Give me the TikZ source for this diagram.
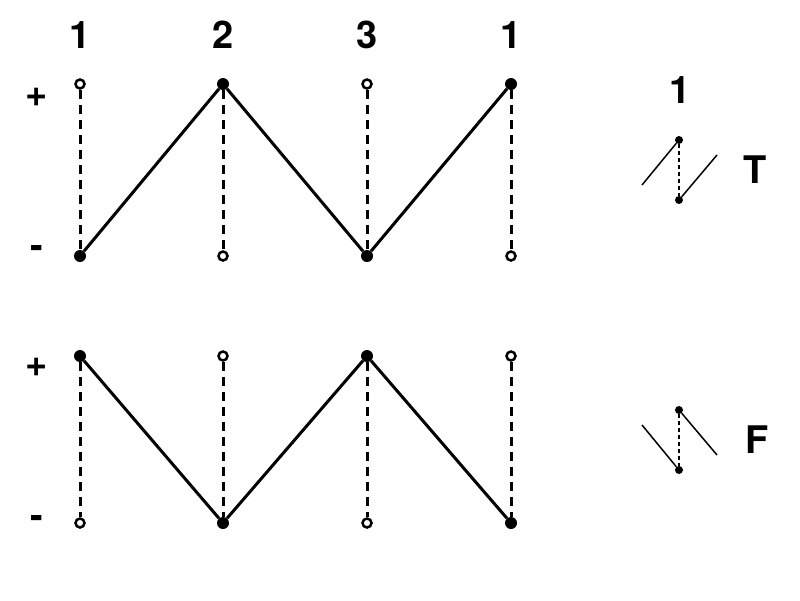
\documentclass[tikz,border=0pt]{standalone}
\usepackage{fontspec}
\setmainfont{TeX Gyre Heros}
\begin{document}
\begin{tikzpicture}[x=1pt,y=-1pt,
  lab/.style={font=\bfseries\fontsize{38}{40}\selectfont},
  fdot/.style={circle,fill=black,inner sep=0pt,minimum size=12pt},
  odot/.style={circle,draw=black,line width=2.5pt,fill=white,inner sep=0pt,minimum size=9pt},
  sfdot/.style={circle,fill=black,inner sep=0pt,minimum size=8pt},
  dsh/.style={line width=3pt,dash pattern=on 9pt off 6pt},
  sdsh/.style={line width=1.3pt,dash pattern=on 4pt off 3pt},
  seg/.style={line width=3pt},
  sseg/.style={line width=1.5pt}]
\useasboundingbox (0,0) rectangle (800,600);
% labels
\node[lab] (l1) at (80,35) {1};
\node[lab] (l2) at (223,35) {2};
\node[lab] (l3) at (367,35) {3};
\node[lab] (l4) at (511,35) {1};
\node[lab] (p1) at (37,97) {+};
\node[lab] (m1) at (37,252) {-};
\node[lab] (p2) at (37,367) {+};
\node[lab] (m2) at (37,522) {-};
% top row
\node[odot] (a1) at (80,84) {};
\node[fdot] (b1) at (80,256) {};
\node[fdot] (a2) at (223,84) {};
\node[odot] (b2) at (223,256) {};
\node[odot] (a3) at (367,84) {};
\node[fdot] (b3) at (367,256) {};
\node[fdot] (a4) at (511,84) {};
\node[odot] (b4) at (511,256) {};
\foreach \i in {1,2,3,4} \draw[dsh] (a\i) -- (b\i);
\draw[seg] (b1) -- (a2) -- (b3) -- (a4);
% bottom row
\node[fdot] (c1) at (80,356) {};
\node[odot] (d1) at (80,523) {};
\node[odot] (c2) at (223,356) {};
\node[fdot] (d2) at (223,523) {};
\node[fdot] (c3) at (367,356) {};
\node[odot] (d3) at (367,523) {};
\node[odot] (c4) at (511,356) {};
\node[fdot] (d4) at (511,523) {};
\foreach \i in {1,2,3,4} \draw[dsh] (c\i) -- (d\i);
\draw[seg] (c1) -- (d2) -- (c3) -- (d4);
% legend
\node[lab] (k1) at (680,90) {1};
\node[sfdot] (t1) at (679,140) {};
\node[sfdot] (t2) at (679,200) {};
\coordinate (t3) at (642,185);
\coordinate (t4) at (717,155);
\draw[sdsh] (t1) -- (t2);
\draw[sseg] (t3) -- (t1);
\draw[sseg] (t2) -- (t4);
\node[lab] (tt) at (755,170) {T};
\node[sfdot] (f1) at (679,410) {};
\node[sfdot] (f2) at (679,470) {};
\coordinate (f3) at (642,425);
\coordinate (f4) at (717,455);
\draw[sdsh] (f1) -- (f2);
\draw[sseg] (f3) -- (f2);
\draw[sseg] (f1) -- (f4);
\node[lab] (ff) at (757,440) {F};
\end{tikzpicture}
\end{document}
